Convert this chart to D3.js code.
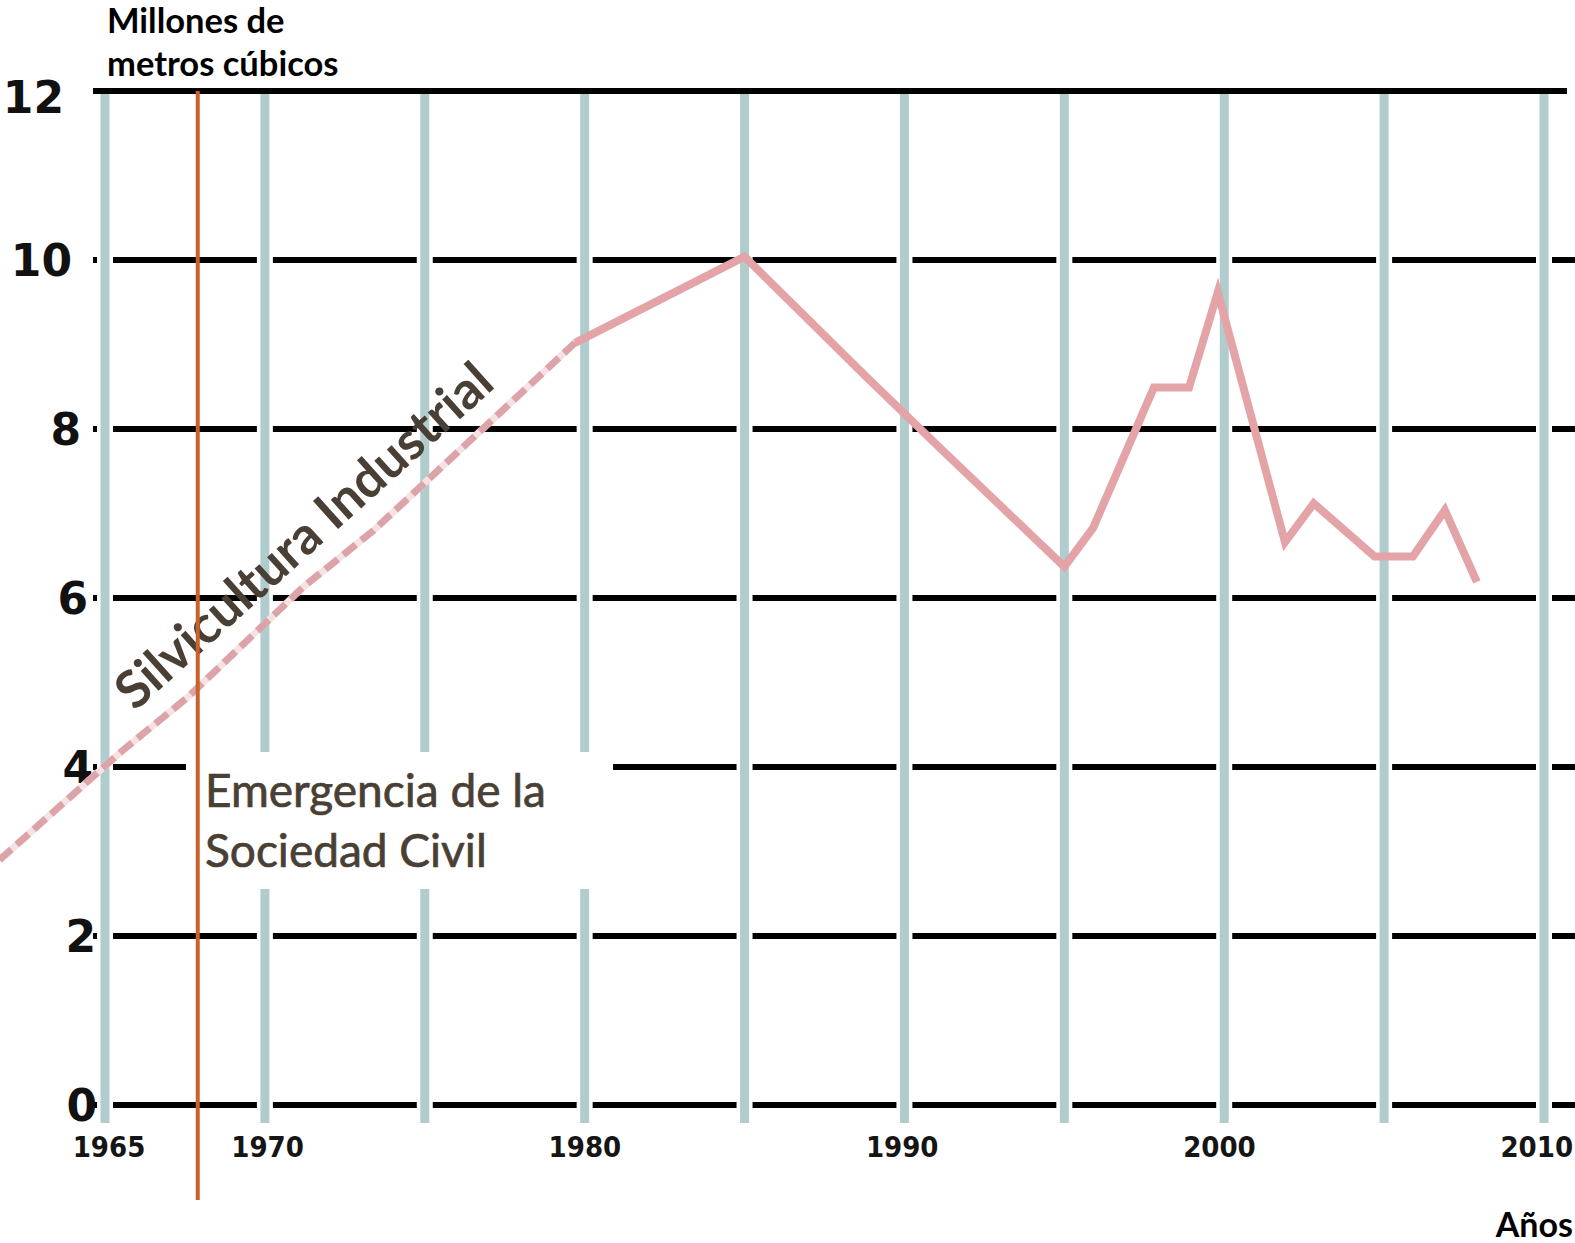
<!DOCTYPE html>
<html>
<head>
<meta charset="utf-8">
<script src="https://cdn.jsdelivr.net/npm/d3@7"></script>
<style>
  html, body { margin: 0; padding: 0; background: #fff; }
  svg { display: block; }
</style>
</head>
<body>
<svg id="chart" width="1575" height="1243"></svg>
<script>
// ---- data ----
const gridYears = [1965, 1970, 1975, 1980, 1985, 1990, 1995, 2000, 2005, 2010];
const xTickLabels = ["1965", "1970", "1980", "1990", "2000", "2010"];
const yTicks = [0, 2, 4, 6, 8, 10, 12];

// projected / estimated part (dashed)
const dashedYears  = [1961.7, 1965.5, 1967.6, 1971.2, 1973.4, 1977.6, 1979.7];
const dashedValues = [2.90, 4.18, 4.83, 6.13, 6.80, 8.28, 9.02];

// recorded part (solid)
const solidYears  = [1979.7, 1985.0, 1988.8, 1991.1, 1995.0, 1995.9, 1997.8, 1998.9, 1999.8, 2001.9, 2002.8, 2004.7, 2005.9, 2006.9, 2007.9];
const solidValues = [9.02, 10.04, 8.62, 7.78, 6.37, 6.83, 8.49, 8.49, 9.62, 6.66, 7.12, 6.49, 6.49, 7.04, 6.19];

const markerYear = 1967.9; // "Emergencia de la Sociedad Civil"

const yTitleLines = ["Millones de", "metros cúbicos"];
const xTitle = "Años";
const eventLines = ["Emergencia de la", "Sociedad Civil"];
const trendLabel = "Silvicultura Industrial";

// ---- scales ----
const x = d3.scaleLinear().domain([1965, 2010]).range([105, 1544]);
const y = d3.scaleLinear().domain([0, 12]).range([1105, 91]);

const svg = d3.select("#chart");

// horizontal grid lines (except top)
svg.append("g").selectAll("line")
  .data(yTicks.filter(v => v !== 12))
  .join("line")
  .attr("x1", 93).attr("x2", 1575)
  .attr("y1", d => y(d)).attr("y2", d => y(d))
  .attr("stroke", "#000").attr("stroke-width", 6);

// vertical grid lines with white casing
const vg = svg.append("g");
vg.selectAll("line.case")
  .data(gridYears).join("line").attr("class", "case")
  .attr("x1", d => x(d)).attr("x2", d => x(d))
  .attr("y1", y(12)).attr("y2", 1123)
  .attr("stroke", "#fff").attr("stroke-width", 16);
vg.selectAll("line.grid")
  .data(gridYears).join("line").attr("class", "grid")
  .attr("x1", d => x(d)).attr("x2", d => x(d))
  .attr("y1", y(12)).attr("y2", 1123)
  .attr("stroke", "#b0cccc").attr("stroke-width", 9);

// top line
svg.append("line")
  .attr("x1", 93).attr("x2", 1567)
  .attr("y1", y(12)).attr("y2", y(12))
  .attr("stroke", "#000").attr("stroke-width", 6);

// white box behind the event label
svg.append("rect")
  .attr("x", 186).attr("y", 752).attr("width", 427).attr("height", 137)
  .attr("fill", "#fff");

// y tick labels
svg.append("g").selectAll("text")
  .data(yTicks).join("text")
  .attr("x", d => 97 - 0.25 * d * d + (d === 12 ? 3 : 0))
  .attr("y", d => y(d) + (d === 12 ? 6 : 0))
  .attr("dy", "0.36em")
  .attr("text-anchor", "end")
  .attr("font-family", "DejaVu Sans")
  .attr("font-weight", "bold")
  .attr("font-size", 44)
  .attr("fill", "#111")
  .text(d => d);

// x tick labels
svg.append("g").selectAll("text")
  .data(xTickLabels).join("text")
  .attr("x", d => x(+d) + 4 - (+d - 1965) * 0.25)
  .attr("y", 1157)
  .attr("text-anchor", "middle")
  .attr("font-family", "'DejaVu Sans Condensed', 'DejaVu Sans'")
  .attr("font-stretch", "condensed")
  .attr("font-weight", "bold")
  .attr("font-size", 29)
  .attr("fill", "#151515")
  .text(d => d);

// line generator
const line = d3.line().x(d => x(d[0])).y(d => y(d[1]));
const dashedData = dashedYears.map((yr, i) => [yr, dashedValues[i]]);
const solidData = solidYears.map((yr, i) => [yr, solidValues[i]]);

svg.append("path").datum(dashedData)
  .attr("d", line).attr("fill", "none")
  .attr("stroke", "#f6e2e3").attr("stroke-width", 7);
svg.append("path").datum(dashedData)
  .attr("d", line).attr("fill", "none")
  .attr("stroke", "#dca4a8").attr("stroke-width", 7)
  .attr("stroke-dasharray", "16,7");
svg.append("path").datum(solidData)
  .attr("d", line).attr("fill", "none")
  .attr("stroke", "#e3a3a7").attr("stroke-width", 8)
  .attr("stroke-linejoin", "miter");

// y title
svg.append("g").selectAll("text")
  .data(yTitleLines).join("text")
  .attr("x", 107)
  .attr("y", (d, i) => 33 + i * 43)
  .attr("font-family", "Lato")
  .attr("font-weight", "bold")
  .attr("font-size", 34.5)
  .attr("fill", "#000")
  .text(d => d);

// x title
svg.append("text")
  .attr("x", 1573).attr("y", 1237)
  .attr("text-anchor", "end")
  .attr("font-family", "Lato")
  .attr("font-weight", "bold")
  .attr("font-size", 34)
  .attr("fill", "#000")
  .text(xTitle);

// event label
svg.append("g").selectAll("text")
  .data(eventLines).join("text")
  .attr("x", 205)
  .attr("y", (d, i) => 807 + i * 60)
  .attr("font-family", "Lato")
  .attr("font-size", 46)
  .attr("fill", "#4a3f35")
  .attr("stroke", "#4a3f35").attr("stroke-width", 0.7)
  .text(d => d);

// rotated trend label
svg.append("text")
  .attr("transform", "translate(135,712) rotate(-42)")
  .attr("font-family", "Lato")
  .attr("font-weight", "bold")
  .attr("font-size", 52)
  .attr("fill", "#4a3f35")
  .text(trendLabel);

// orange event line
svg.append("line")
  .attr("x1", x(markerYear)).attr("x2", x(markerYear))
  .attr("y1", y(12)).attr("y2", 1200)
  .attr("stroke", "#c8622a").attr("stroke-width", 4);
</script>
</body>
</html>
